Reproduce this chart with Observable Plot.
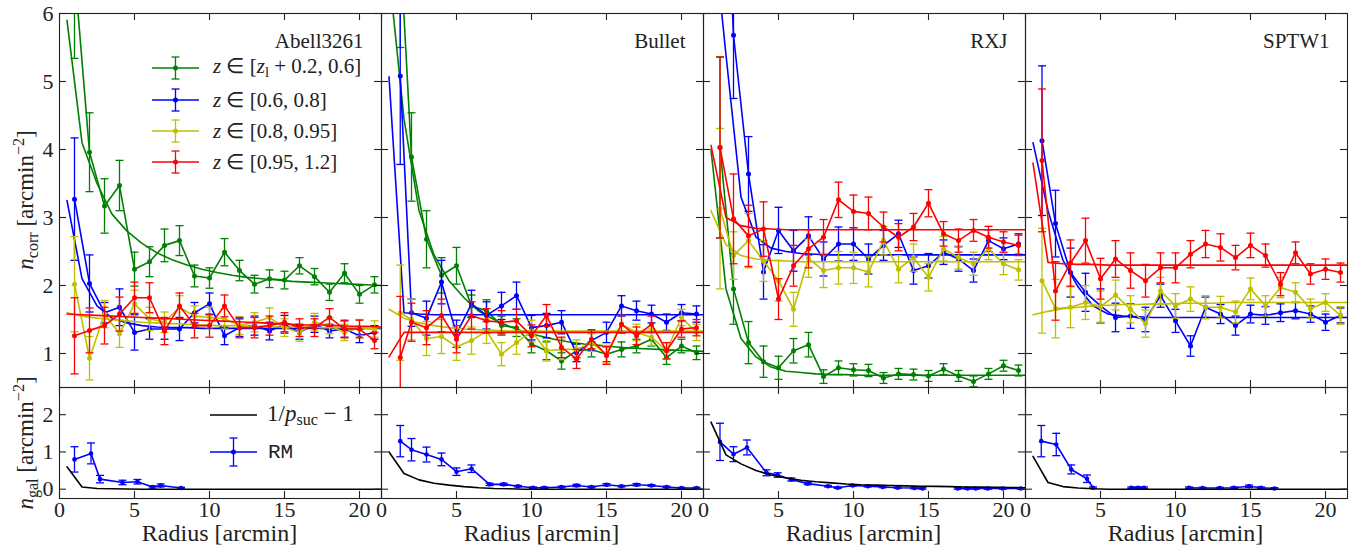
<!DOCTYPE html>
<html>
<head>
<meta charset="utf-8">
<script src="https://cdn.jsdelivr.net/npm/d3@7"></script>
<script src="https://cdn.jsdelivr.net/npm/@observablehq/plot@0.6"></script>
<style>
  body { margin: 0; background: #fff; }
  #fig { position: relative; width: 1358px; height: 549px; overflow: hidden;
         font-family: "Liberation Serif", "Times New Roman", serif; color: #222; }
  #fig svg { overflow: visible; }
  #fig svg text { font-family: "Liberation Serif", "Times New Roman", serif; }
  .abs { position: absolute; white-space: nowrap; line-height: 1; font-family: "Liberation Serif", "Times New Roman", serif; }
  .sub { font-size: 70%; vertical-align: -0.28em; }
  .sup { font-size: 70%; vertical-align: 0.55em; }
  .abs.mono { font-family: "Liberation Mono", "DejaVu Sans Mono", monospace; }
</style>
</head>
<body>
<div id="fig"></div>
<script>
// ---------- shared axes ----------
const xTicks = [0, 5, 10, 15, 20];
const yTicksTop = [1, 2, 3, 4, 5, 6];
const yTicksBottom = [0, 1, 2];
const fitRadius = [0.5, 1.5, 2.5, 3.5, 4.5, 5.5, 6.5, 7.5, 8.5, 9.5, 10.5,
                   11.5, 12.5, 13.5, 14.5, 15.5, 16.5, 17.5, 18.5, 19.5, 20.5, 21.5];
const clusterNames = ["Abell3261", "Bullet", "RXJ", "SPTW1"];
const zBinLabels = ["[z_l + 0.2, 0.6]", "[0.6, 0.8]", "[0.8, 0.95]", "[0.95, 1.2]"];

// ---------- Abell3261 ----------
const radiusA = [1, 2, 3, 4, 5, 6, 7, 8, 9, 10, 11, 12, 13, 14, 15, 16, 17, 18, 19, 20, 21];
const aGreen    = [6.64, 3.96, 3.17, 3.47, 2.24, 2.35, 2.59, 2.66, 2.14, 2.11, 2.49, 2.22, 2.02, 2.10, 2.08, 2.29, 2.13, 1.90, 2.18, 1.87, 2.01];
const aGreenErr = [1.3, 0.58, 0.4, 0.37, 0.25, 0.22, 0.24, 0.22, 0.16, 0.15, 0.2, 0.15, 0.13, 0.13, 0.13, 0.12, 0.12, 0.12, 0.14, 0.13, 0.12];
const aGreenFit = [5.9, 4.1, 3.5, 3.05, 2.8, 2.62, 2.48, 2.38, 2.3, 2.24, 2.19, 2.15, 2.12, 2.1, 2.08, 2.06, 2.05, 2.04, 2.03, 2.02, 2.01, 2.0];
const aBlue     = [3.27, 2.03, 1.6, 1.68, 1.31, 1.36, 1.36, 1.36, 1.60, 1.73, 1.26, 1.38, 1.41, 1.33, 1.43, 1.31, 1.43, 1.33, 1.36, 1.26, 1.31];
const aBlueErr  = [0.9, 0.42, 0.15, 0.27, 0.26, 0.15, 0.15, 0.17, 0.15, 0.16, 0.13, 0.13, 0.14, 0.13, 0.13, 0.1, 0.12, 0.1, 0.12, 0.1, 0.1];
const aBlueFit  = [3.25, 2.1, 1.7, 1.52, 1.45, 1.41, 1.39, 1.38, 1.38, 1.37, 1.37, 1.37, 1.37, 1.37, 1.37, 1.37, 1.37, 1.37, 1.37, 1.37, 1.37, 1.37];
const aYellow    = [2.02, 0.93, 1.58, 1.29, 1.73, 1.51, 1.46, 1.68, 1.55, 1.53, 1.51, 1.41, 1.46, 1.53, 1.38, 1.31, 1.46, 1.41, 1.31, 1.38, 1.36];
const aYellowErr = [0.7, 0.32, 0.2, 0.2, 0.2, 0.17, 0.15, 0.17, 0.15, 0.15, 0.15, 0.13, 0.14, 0.14, 0.13, 0.13, 0.13, 0.12, 0.12, 0.12, 0.12];
const aYellowFit = [1.6, 1.55, 1.52, 1.5, 1.48, 1.46, 1.45, 1.44, 1.43, 1.42, 1.41, 1.41, 1.4, 1.4, 1.39, 1.39, 1.39, 1.38, 1.38, 1.38, 1.38, 1.38];
const aRed      = [1.26, 1.34, 1.41, 1.58, 1.82, 1.82, 1.33, 1.70, 1.41, 1.41, 1.70, 1.38, 1.38, 1.41, 1.46, 1.38, 1.38, 1.53, 1.36, 1.36, 1.19];
const aRedErr   = [0.56, 0.33, 0.27, 0.25, 0.23, 0.22, 0.2, 0.19, 0.18, 0.17, 0.16, 0.15, 0.15, 0.14, 0.14, 0.13, 0.13, 0.13, 0.13, 0.13, 0.12];
const aRedFit   = [1.58, 1.57, 1.56, 1.55, 1.54, 1.53, 1.52, 1.51, 1.5, 1.49, 1.48, 1.47, 1.46, 1.45, 1.44, 1.43, 1.42, 1.42, 1.41, 1.4, 1.4, 1.39];
const aPsuc     = [0.6, 0.06, 0.02, 0.01, 0.005, 0, 0, 0, 0, 0, 0, 0, 0, 0, 0, 0, 0, 0, 0, 0, 0, 0];
const aRmRadius = [1.0, 2.1, 2.7, 4.2, 5.2, 6.2, 6.75, 8.1];
const aRm       = [0.8, 0.96, 0.27, 0.18, 0.2, 0.06, 0.1, 0.03];
const aRmErr    = [0.34, 0.28, 0.1, 0.06, 0.06, 0.03, 0.04, 0.02];
const aRmSeg    = [0, 0, 0, 0, 0, 0, 0, 0];

// ---------- Bullet ----------
const radiusB = [1.25, 2, 3, 4, 5, 6, 7, 8, 9, 10, 11, 12, 13, 14, 15, 16, 17, 18, 19, 20, 21];
const bGreen    = [7.0, 3.89, 2.68, 2.15, 2.29, 1.70, 1.63, 1.41, 1.38, 1.14, 1.04, 0.89, 1.04, 1.06, 0.99, 1.06, 1.11, 1.21, 0.94, 1.11, 1.01];
const bGreenErr = [1.5, 0.65, 0.42, 0.26, 0.27, 0.16, 0.16, 0.14, 0.13, 0.13, 0.13, 0.12, 0.1, 0.11, 0.11, 0.11, 0.1, 0.1, 0.1, 0.1, 0.1];
const bGreenFit = [6.6, 4.45, 3.1, 2.45, 2.07, 1.82, 1.62, 1.5, 1.4, 1.32, 1.26, 1.21, 1.17, 1.14, 1.12, 1.1, 1.08, 1.07, 1.06, 1.05, 1.04, 1.03];
const bBlue     = [5.08, 1.6, 1.52, 2.05, 1.29, 1.73, 1.56, 1.70, 1.85, 1.38, 1.41, 1.46, 1.01, 1.19, 1.31, 1.70, 1.63, 1.58, 1.46, 1.60, 1.58];
const bBlueErr  = [1.3, 0.2, 0.25, 0.32, 0.2, 0.2, 0.2, 0.2, 0.2, 0.18, 0.18, 0.17, 0.13, 0.15, 0.15, 0.15, 0.14, 0.13, 0.12, 0.12, 0.12];
const bBlueFit  = [5.07, 1.6, 1.58, 1.57, 1.57, 1.57, 1.57, 1.57, 1.57, 1.57, 1.57, 1.57, 1.57, 1.57, 1.57, 1.57, 1.57, 1.57, 1.57, 1.57, 1.57, 1.57];
const bYellow    = [1.6, 1.5, 1.22, 1.25, 1.1, 1.19, 1.33, 0.99, 1.16, 1.33, 1.04, 1.06, 1.06, 1.16, 0.99, 1.43, 1.31, 1.24, 1.04, 1.53, 1.31];
const bYellowErr = [0.7, 0.3, 0.25, 0.25, 0.2, 0.2, 0.18, 0.17, 0.17, 0.16, 0.15, 0.15, 0.14, 0.13, 0.13, 0.13, 0.12, 0.12, 0.12, 0.12, 0.12];
const bYellowFit = [1.65, 1.52, 1.45, 1.41, 1.38, 1.36, 1.35, 1.34, 1.33, 1.33, 1.33, 1.33, 1.33, 1.33, 1.33, 1.33, 1.33, 1.33, 1.33, 1.33, 1.33, 1.33];
const bRed      = [0.94, 1.46, 1.38, 1.56, 1.21, 1.56, 1.48, 1.46, 1.48, 1.26, 1.56, 1.09, 0.92, 1.21, 0.97, 1.43, 1.26, 1.43, 1.04, 1.36, 1.38];
const bRedErr   = [0.9, 0.28, 0.25, 0.24, 0.2, 0.2, 0.18, 0.17, 0.17, 0.16, 0.16, 0.15, 0.14, 0.14, 0.13, 0.13, 0.13, 0.12, 0.12, 0.12, 0.12];
const bRedFit   = [0.95, 1.31, 1.31, 1.31, 1.31, 1.31, 1.31, 1.31, 1.31, 1.31, 1.31, 1.31, 1.31, 1.31, 1.31, 1.31, 1.31, 1.31, 1.31, 1.31, 1.31, 1.31];
const bPsuc     = [1.0, 0.42, 0.25, 0.16, 0.11, 0.07, 0.04, 0.02, 0.01, 0, 0, 0, 0, 0, 0, 0, 0, 0, 0, 0, 0, 0];
const bRmRadius = [1.25, 2, 3, 4, 5, 6, 7.2, 8.15, 9.1, 10.1, 10.85, 12, 13, 14, 15, 16, 17, 18, 19, 20, 21];
const bRm       = [1.29, 1.06, 0.93, 0.8, 0.47, 0.55, 0.13, 0.13, 0.08, 0.04, 0.04, 0.06, 0.1, 0.06, 0.12, 0.08, 0.12, 0.1, 0.06, 0.03, 0.03];
const bRmErr    = [0.42, 0.3, 0.2, 0.17, 0.1, 0.1, 0.03, 0.03, 0.02, 0.02, 0.02, 0.02, 0.03, 0.02, 0.03, 0.02, 0.03, 0.02, 0.02, 0.02, 0.02];
const bRmSeg    = [0, 0, 0, 0, 0, 0, 0, 0, 0, 0, 0, 0, 0, 0, 0, 0, 0, 0, 0, 0, 0];

// ---------- RXJ ----------
const radiusR = [1.1, 2, 3, 4, 5, 6, 7, 8, 9, 10, 11, 12, 13, 14, 15, 16, 17, 18, 19, 20, 21];
const rGreen    = [4.03, 1.95, 1.16, 0.88, 0.79, 1.04, 1.13, 0.66, 0.79, 0.76, 0.75, 0.64, 0.70, 0.69, 0.67, 0.77, 0.67, 0.59, 0.70, 0.82, 0.75];
const rGreenErr = [1.33, 0.52, 0.31, 0.23, 0.17, 0.18, 0.18, 0.1, 0.1, 0.09, 0.09, 0.08, 0.08, 0.08, 0.08, 0.08, 0.08, 0.08, 0.08, 0.08, 0.08];
const rGreenFit = [4.0, 1.95, 1.22, 0.95, 0.8, 0.74, 0.72, 0.7, 0.69, 0.69, 0.68, 0.68, 0.68, 0.68, 0.68, 0.68, 0.68, 0.68, 0.68, 0.68, 0.68, 0.68];
const rBlue     = [10.3, 5.68, 3.64, 2.2, 2.81, 2.51, 2.73, 2.39, 2.61, 2.61, 2.39, 2.59, 2.76, 2.22, 2.29, 2.49, 2.39, 2.22, 2.66, 2.54, 2.61];
const rBlueErr  = [2.0, 0.93, 0.55, 0.4, 0.34, 0.3, 0.28, 0.25, 0.25, 0.24, 0.22, 0.22, 0.2, 0.2, 0.18, 0.18, 0.18, 0.17, 0.16, 0.16, 0.15];
const rBlueFit  = [7.56, 5.39, 3.3, 2.71, 2.55, 2.5, 2.47, 2.46, 2.45, 2.45, 2.45, 2.45, 2.45, 2.45, 2.45, 2.45, 2.45, 2.45, 2.45, 2.45, 2.45, 2.45];
const rYellow    = [3.13, 2.44, 2.66, 2.36, 2.07, 1.65, 2.4, 2.22, 2.26, 2.26, 2.2, 2.66, 2.24, 2.41, 2.12, 2.54, 2.41, 2.32, 2.54, 2.32, 2.23];
const rYellowErr = [1.18, 0.35, 0.4, 0.3, 0.3, 0.25, 0.28, 0.25, 0.24, 0.23, 0.22, 0.21, 0.2, 0.2, 0.2, 0.18, 0.17, 0.17, 0.16, 0.16, 0.15];
const rYellowFit = [3.1, 2.6, 2.44, 2.39, 2.37, 2.36, 2.35, 2.35, 2.35, 2.35, 2.35, 2.35, 2.35, 2.35, 2.35, 2.35, 2.35, 2.35, 2.35, 2.35, 2.35, 2.35];
const rRed      = [4.03, 2.98, 2.73, 2.83, 1.80, 2.29, 2.54, 2.71, 3.26, 3.09, 3.06, 2.86, 2.71, 2.86, 3.21, 2.76, 2.66, 2.81, 2.71, 2.64, 2.59];
const rRedErr   = [1.33, 0.66, 0.45, 0.4, 0.3, 0.3, 0.28, 0.26, 0.26, 0.24, 0.24, 0.22, 0.2, 0.2, 0.2, 0.18, 0.17, 0.16, 0.16, 0.15, 0.15];
const rRedFit   = [4.06, 3.0, 2.88, 2.84, 2.83, 2.82, 2.82, 2.82, 2.82, 2.82, 2.82, 2.82, 2.82, 2.82, 2.82, 2.82, 2.82, 2.82, 2.82, 2.82, 2.82, 2.82];
const rPsuc     = [1.8, 0.92, 0.68, 0.5, 0.38, 0.3, 0.24, 0.2, 0.17, 0.14, 0.12, 0.11, 0.1, 0.09, 0.08, 0.075, 0.07, 0.06, 0.055, 0.05, 0.045, 0.04];
const rRmRadius = [1.1, 2, 2.9, 4.2, 4.95, 5.85, 6.95, 8.3, 8.95, 9.95, 10.95, 11.95, 12.95, 14.05, 14.6, 16.95, 17.6, 18.15, 18.95, 19.95, 21.15];
const rRm       = [1.27, 0.94, 1.12, 0.44, 0.38, 0.26, 0.15, 0.08, 0.04, 0.1, 0.08, 0.06, 0.04, 0.03, 0.02, 0.02, 0.02, 0.02, 0.02, 0.02, 0.02];
const rRmErr    = [0.5, 0.2, 0.2, 0.08, 0.06, 0.04, 0.03, 0.02, 0.02, 0.02, 0.02, 0.02, 0.02, 0.02, 0.02, 0.02, 0.02, 0.02, 0.02, 0.02, 0.02];
const rRmSeg    = [0, 0, 0, 0, 0, 0, 0, 0, 0, 0, 0, 0, 0, 0, 0, 1, 1, 1, 1, 1, 1];

// ---------- SPTW1 (no low-z bin) ----------
const radiusS = [1.1, 2, 3, 4, 5, 6, 7, 8, 9, 10, 11, 12, 13, 14, 15, 16, 17, 18, 19, 20, 21];
const sBlue     = [4.13, 2.91, 2.19, 1.90, 1.70, 1.53, 1.55, 1.50, 1.85, 1.48, 1.11, 1.68, 1.58, 1.41, 1.58, 1.56, 1.60, 1.63, 1.58, 1.46, 1.56];
const sBlueErr  = [1.1, 0.49, 0.36, 0.28, 0.25, 0.21, 0.18, 0.18, 0.17, 0.17, 0.15, 0.15, 0.14, 0.14, 0.13, 0.13, 0.13, 0.12, 0.12, 0.12, 0.11];
const sBlueFit  = [4.1, 3.1, 2.37, 1.98, 1.7, 1.58, 1.55, 1.54, 1.53, 1.53, 1.53, 1.53, 1.53, 1.53, 1.53, 1.53, 1.53, 1.53, 1.53, 1.53, 1.53, 1.53];
const sYellow    = [2.07, 1.66, 1.68, 1.75, 1.69, 1.86, 1.65, 1.44, 1.92, 1.70, 1.80, 1.68, 1.68, 1.61, 1.95, 1.70, 1.97, 1.90, 1.66, 1.75, 1.56];
const sYellowErr = [0.77, 0.43, 0.3, 0.25, 0.23, 0.22, 0.2, 0.2, 0.2, 0.18, 0.18, 0.17, 0.16, 0.16, 0.16, 0.15, 0.15, 0.14, 0.14, 0.13, 0.13];
const sYellowFit = [1.57, 1.62, 1.66, 1.68, 1.7, 1.71, 1.72, 1.72, 1.73, 1.73, 1.74, 1.74, 1.74, 1.75, 1.75, 1.75, 1.75, 1.75, 1.75, 1.75, 1.75, 1.75];
const sRed      = [3.84, 1.92, 2.33, 2.66, 2.10, 2.39, 2.22, 2.07, 2.26, 2.26, 2.46, 2.61, 2.56, 2.41, 2.59, 2.44, 2.02, 2.48, 2.17, 2.24, 2.19];
const sRedErr   = [1.05, 0.43, 0.34, 0.33, 0.3, 0.27, 0.26, 0.24, 0.22, 0.22, 0.2, 0.2, 0.2, 0.18, 0.18, 0.17, 0.17, 0.16, 0.15, 0.15, 0.14];
const sRedFit   = [3.8, 2.34, 2.32, 2.31, 2.31, 2.3, 2.3, 2.3, 2.3, 2.3, 2.3, 2.3, 2.3, 2.3, 2.3, 2.3, 2.3, 2.3, 2.3, 2.3, 2.3, 2.3];
const sPsuc     = [0.88, 0.18, 0.07, 0.03, 0.01, 0, 0, 0, 0, 0, 0, 0, 0, 0, 0, 0, 0, 0, 0, 0, 0, 0];
const sRmRadius = [1.05, 2.05, 3.05, 4.1, 4.5, 7.05, 7.5, 7.9, 10.9, 11.8, 12.95, 13.9, 14.9, 15.7, 16.6];
const sRm       = [1.29, 1.2, 0.53, 0.28, 0.04, 0.04, 0.04, 0.04, 0.04, 0.03, 0.03, 0.04, 0.08, 0.04, 0.02];
const sRmErr    = [0.42, 0.3, 0.12, 0.1, 0.02, 0.02, 0.02, 0.02, 0.02, 0.02, 0.02, 0.02, 0.03, 0.02, 0.02];
const sRmSeg    = [0, 0, 0, 0, 0, 1, 1, 1, 2, 2, 2, 2, 2, 2, 2];

// ---------- styling ----------
const GREEN = "#008000", BLUE = "#0000ff", YELLOW = "#bfbf00", RED = "#ff0000", INK = "#222";
const SERIF = '"Liberation Serif", "Times New Roman", serif';
const FRAME_W = 322, TOP_H = 374, BOT_H = 111;
const TOP_Y = 13, BOT_Y = 387;
const PANEL_X = [58.5, 380.5, 702.5, 1024.5];
const X_DOMAIN = [0, FRAME_W / 15];
const TOP_DOMAIN = [0.5, 6];
const BOT_DOMAIN = [-0.25, 2.73];

const panels = [
  {radius: radiusA, series: [
    {n: aGreen, err: aGreenErr, fit: aGreenFit, color: GREEN},
    {n: aBlue, err: aBlueErr, fit: aBlueFit, color: BLUE},
    {n: aYellow, err: aYellowErr, fit: aYellowFit, color: YELLOW},
    {n: aRed, err: aRedErr, fit: aRedFit, color: RED}],
   psuc: aPsuc, rm: {x: aRmRadius, y: aRm, e: aRmErr, seg: aRmSeg}},
  {radius: radiusB, series: [
    {n: bGreen, err: bGreenErr, fit: bGreenFit, color: GREEN},
    {n: bBlue, err: bBlueErr, fit: bBlueFit, color: BLUE},
    {n: bYellow, err: bYellowErr, fit: bYellowFit, color: YELLOW},
    {n: bRed, err: bRedErr, fit: bRedFit, color: RED}],
   psuc: bPsuc, rm: {x: bRmRadius, y: bRm, e: bRmErr, seg: bRmSeg}},
  {radius: radiusR, series: [
    {n: rGreen, err: rGreenErr, fit: rGreenFit, color: GREEN},
    {n: rBlue, err: rBlueErr, fit: rBlueFit, color: BLUE},
    {n: rYellow, err: rYellowErr, fit: rYellowFit, color: YELLOW},
    {n: rRed, err: rRedErr, fit: rRedFit, color: RED}],
   psuc: rPsuc, rm: {x: rRmRadius, y: rRm, e: rRmErr, seg: rRmSeg}},
  {radius: radiusS, series: [
    {n: sBlue, err: sBlueErr, fit: sBlueFit, color: BLUE},
    {n: sYellow, err: sYellowErr, fit: sYellowFit, color: YELLOW},
    {n: sRed, err: sRedErr, fit: sRedFit, color: RED}],
   psuc: sPsuc, rm: {x: sRmRadius, y: sRm, e: sRmErr, seg: sRmSeg}}
];

// horizontal error-bar cap drawn as a dot symbol; half-width equals r
const capSymbol = {
  draw(context, size) {
    const r = Math.sqrt(size / Math.PI);
    context.moveTo(-r, 0);
    context.lineTo(r, 0);
  }
};

function errorBarMarks(rows, color, dotR = 2.5) {
  return [
    Plot.ruleX(rows, {x: "x", y1: d => d.y - d.e, y2: d => d.y + d.e, stroke: color, strokeWidth: 1.3, clip: true}),
    Plot.dot(rows, {x: "x", y: d => d.y + d.e, symbol: capSymbol, r: 4, stroke: color, strokeWidth: 1.3, clip: true}),
    Plot.dot(rows, {x: "x", y: d => d.y - d.e, symbol: capSymbol, r: 4, stroke: color, strokeWidth: 1.3, clip: true}),
    Plot.line(rows, {x: "x", y: "y", z: "seg", stroke: color, strokeWidth: 1.6, clip: true}),
    Plot.dot(rows, {x: "x", y: "y", r: dotR, fill: color, clip: true})
  ];
}

function frameMarks(h, yTicks) {
  return [
    Plot.frame({stroke: INK, strokeWidth: 1.1}),
    Plot.tickX(xTicks, {x: d => d, insetTop: h - 7, stroke: INK, strokeWidth: 1.1}),
    Plot.tickX(xTicks, {x: d => d, insetBottom: h - 7, stroke: INK, strokeWidth: 1.1}),
    Plot.tickY(yTicks, {y: d => d, insetRight: FRAME_W - 7, stroke: INK, strokeWidth: 1.1}),
    Plot.tickY(yTicks, {y: d => d, insetLeft: FRAME_W - 7, stroke: INK, strokeWidth: 1.1})
  ];
}

function basePlot({height, yDomain, yTicks, showY, showX, marks}) {
  return Plot.plot({
    width: FRAME_W, height,
    marginTop: 0, marginRight: 0, marginBottom: 0, marginLeft: 0,
    style: {background: "transparent", overflow: "visible", fontFamily: SERIF, fontSize: "22px", color: INK},
    x: {domain: X_DOMAIN, ticks: xTicks, tickFormat: d3.format("d"), tickSize: 0, tickPadding: 3,
        axis: showX ? "bottom" : null, label: null},
    y: {domain: yDomain, ticks: yTicks, tickFormat: d3.format("d"), tickSize: 0, tickPadding: 6,
        axis: showY ? "left" : null, label: null},
    marks
  });
}

const fig = document.getElementById("fig");
function place(node, left, top) {
  node.style.position = "absolute";
  node.style.left = left + "px";
  node.style.top = top + "px";
  fig.appendChild(node);
  return node;
}
function text(html, left, top, {size = 21, transform = "translate(0,-50%)", cls = ""} = {}) {
  const d = document.createElement("div");
  d.className = "abs " + cls;
  d.innerHTML = html;
  d.style.fontSize = size + "px";
  d.style.transform = transform;
  return place(d, left, top);
}

panels.forEach((p, i) => {
  // corrected number density with fitted profiles
  const topMarks = [];
  for (const s of p.series) {
    const rows = s.n.map((v, k) => ({x: p.radius[k], y: v, e: s.err[k], seg: 0}));
    const fit = fitRadius.map((r, k) => ({x: r, y: s.fit[k]}));
    topMarks.push(Plot.line(fit, {x: "x", y: "y", stroke: s.color, strokeWidth: 1.6, clip: true}));
    topMarks.push(...errorBarMarks(rows, s.color));
  }
  const top = basePlot({height: TOP_H, yDomain: TOP_DOMAIN, yTicks: yTicksTop, showY: i === 0, showX: false,
    marks: [...topMarks, ...frameMarks(TOP_H, yTicksTop)]});
  place(top, PANEL_X[i], TOP_Y);

  // member density from the red-sequence catalogue and the 1/p_suc - 1 expectation
  const rmRows = p.rm.x.map((x, k) => ({x, y: p.rm.y[k], e: p.rm.e[k], seg: p.rm.seg[k]}));
  const psucRows = fitRadius.map((r, k) => ({x: r, y: p.psuc[k]}));
  const bottom = basePlot({height: BOT_H, yDomain: BOT_DOMAIN, yTicks: yTicksBottom, showY: i === 0, showX: true,
    marks: [
      ...errorBarMarks(rmRows, BLUE, 2.3),
      Plot.line(psucRows, {x: "x", y: "y", stroke: "#000", strokeWidth: 1.6, clip: true}),
      ...frameMarks(BOT_H, yTicksBottom)
    ]});
  place(bottom, PANEL_X[i], BOT_Y);

  text(clusterNames[i], PANEL_X[i] + FRAME_W - 17, 41, {transform: "translate(-100%,-50%)"});
  text("Radius [arcmin]", PANEL_X[i] + FRAME_W / 2, 533, {size: 24, transform: "translate(-50%,-50%)"});
});

// y-axis titles
text('<i>n</i><span class="sub">corr</span> [arcmin<span class="sup">−2</span>]', 26, TOP_Y + TOP_H / 2,
     {size: 23, transform: "translate(-50%,-50%) rotate(-90deg)"});
text('<i>n</i><span class="sub">gal</span> [arcmin<span class="sup">−2</span>]', 26, BOT_Y + BOT_H / 2,
     {size: 23, transform: "translate(-50%,-50%) rotate(-90deg)"});

// legend handles: line with an error bar and marker
function handle(color, {bar = 11, w = 47, withBar = true} = {}) {
  const h = 2 * bar + 6, cy = h / 2, cx = w / 2;
  const svg = d3.create("svg").attr("width", w).attr("height", h);
  svg.append("line").attr("x1", 0).attr("x2", w).attr("y1", cy).attr("y2", cy)
     .attr("stroke", color).attr("stroke-width", 1.6);
  if (withBar) {
    svg.append("line").attr("x1", cx).attr("x2", cx).attr("y1", cy - bar).attr("y2", cy + bar)
       .attr("stroke", color).attr("stroke-width", 1.3);
    for (const yy of [cy - bar, cy + bar]) {
      svg.append("line").attr("x1", cx - 4).attr("x2", cx + 4).attr("y1", yy).attr("y2", yy)
         .attr("stroke", color).attr("stroke-width", 1.3);
    }
    svg.append("circle").attr("cx", cx).attr("cy", cy).attr("r", 2.5).attr("fill", color);
  }
  const node = svg.node();
  node.dataset.h = h;
  return node;
}
function legendRow(color, html, y, {handleX, textX, bar, withBar = true, cls = "", size = 21}) {
  const hn = handle(color, {bar, withBar});
  place(hn, handleX, y - hn.dataset.h / 2);
  text(html, textX, y, {cls, size});
}

const zLegend = [
  '<i>z</i> ∈ [<i>z</i><span class="sub">l</span> + 0.2, 0.6]',
  '<i>z</i> ∈ ' + zBinLabels[1],
  '<i>z</i> ∈ ' + zBinLabels[2],
  '<i>z</i> ∈ ' + zBinLabels[3]
];
[GREEN, BLUE, YELLOW, RED].forEach((c, k) => {
  legendRow(c, zLegend[k], [68, 100, 131, 162][k], {handleX: 152, textX: 213, bar: 11});
});
legendRow("#000", '1/<i>p</i><span class="sub">suc</span> − 1', 414.5, {handleX: 210, textX: 267, bar: 0, withBar: false, size: 23});
legendRow(BLUE, "RM", 451.5, {handleX: 210, textX: 268, bar: 14, cls: "mono", size: 21});
</script>
</body>
</html>
